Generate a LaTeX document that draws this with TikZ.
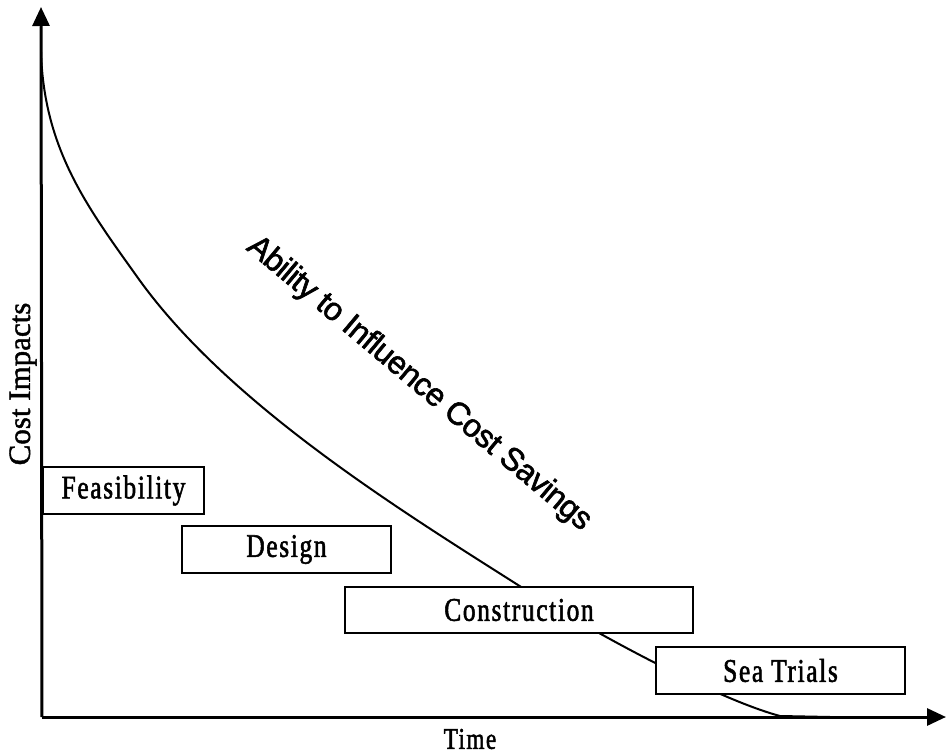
\documentclass[tikz,border=0pt]{standalone}
\usepackage{fontspec}
\setmainfont{Liberation Serif}
\newfontfamily\phasefont[FakeStretch=0.77,LetterSpace=5,FakeBold=1.6]{Liberation Serif}
\newfontfamily\axisfont[FakeBold=1.4]{Liberation Serif}
\newfontfamily\curvefont[LetterSpace=-2,FakeBold=1.8]{Liberation Sans}
\usetikzlibrary{arrows.meta}

\begin{document}
\begin{tikzpicture}[x=1pt,y=-1pt,
    phase/.style={draw,fill=white,line width=1.5pt,inner sep=0pt,
      font=\phasefont\fontsize{33}{36}\selectfont},
    axis/.style={line width=3pt,-{Triangle[length=19pt,width=17pt]}}]
  \useasboundingbox (0,0) rectangle (946,754);
  \coordinate (O) at (42,717);
  \coordinate (ytop) at (41,7);
  \coordinate (xend) at (946,717);
  % the curve
  \draw[line width=2pt] (41,52) .. controls (44,150) and (88,208) .. (138,278)
    .. controls (228,404) and (400,510) .. (518,585)
    .. controls (600,637) and (720,700) .. (780,716) -- (830,717);
  \node[rotate=-40,font=\curvefont\fontsize{32}{36}\selectfont] (ability) at (419,384) {Ability to Influence Cost Savings};
  % phases
  \node[phase,minimum width=161pt,minimum height=47pt] (feas) at (123.5,490.5) {Feasibility};
  \node[phase,minimum width=209pt,minimum height=47pt] (design) at (286.5,549.5) {Design};
  \node[phase,minimum width=348pt,minimum height=46pt] (constr) at (519,610) {Construction};
  \node[phase,minimum width=249pt,minimum height=47pt] (trials) at (780.5,670.5) {Sea Trials};
  % axes
  \draw[axis] (O) -- (ytop);
  \draw[axis] (O) -- (xend);
  \node[rotate=90,font=\axisfont\fontsize{31}{36}\selectfont] (cost) at (23,384) {Cost Impacts};
  \node[inner sep=0pt,font=\phasefont\fontsize{30}{36}\selectfont] (time) at (470,739) {Time};
\end{tikzpicture}
\end{document}
